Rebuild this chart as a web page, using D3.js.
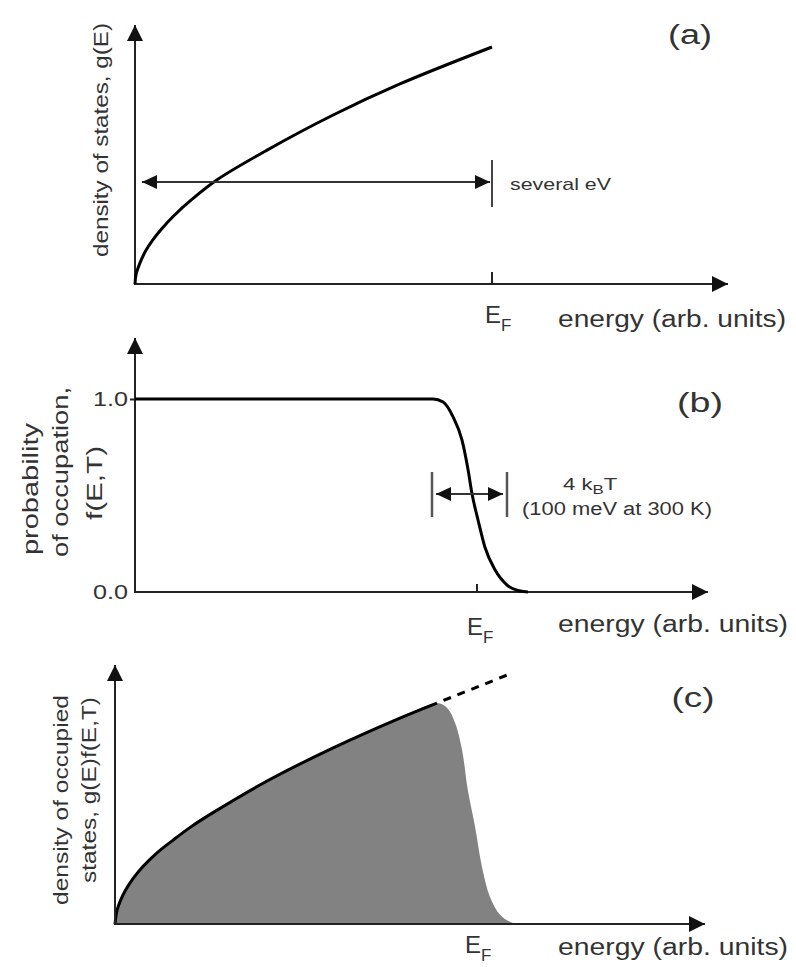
<!DOCTYPE html>
<html>
<head>
<meta charset="utf-8">
<script src="https://cdn.jsdelivr.net/npm/d3@7.9.0/dist/d3.min.js"></script>
<style>
  body { margin: 0; background: #fff; }
  svg text { font-family: "Liberation Sans", Arial, Helvetica, sans-serif; fill: #333; }
</style>
</head>
<body>
<svg id="fig" width="796" height="967"></svg>
<script>
// (a) density of states g(E), energy in units of E_F
const dosE = [0, 0.003, 0.014, 0.03, 0.05, 0.075, 0.106, 0.16, 0.23, 0.37, 0.555, 0.742, 1.0];
const dosG = [0, 0.04, 0.089, 0.14, 0.186, 0.233, 0.284, 0.358, 0.44, 0.565, 0.713, 0.844, 1.0];

// (b) occupation probability f(E,T)
const occE = [0, 0.871, 0.901, 0.930, 0.956, 0.974, 0.985, 1.003, 1.023, 1.053, 1.088, 1.126, 1.149];
const occF = [1, 1, 0.984, 0.907, 0.788, 0.632, 0.513, 0.373, 0.233, 0.114, 0.036, 0.005, 0];
const occTicks = [0, 1];

// (c) density of occupied states g(E)f(E,T)
const dofE = [0, 0.006, 0.015, 0.028, 0.05, 0.077, 0.115, 0.160, 0.21, 0.270, 0.419, 0.601, 0.785, 0.887,
              0.915, 0.937, 0.956, 0.972, 0.992, 1.011, 1.033, 1.061, 1.096, 1.124];
const dofN = [0, 0.055, 0.09, 0.128, 0.176, 0.222, 0.274, 0.324, 0.376, 0.430, 0.552, 0.68, 0.795, 0.853,
              0.834, 0.776, 0.672, 0.517, 0.375, 0.220, 0.104, 0.035, 0.004, 0];
const dofSolid = 14;           // first points carry the black g(E) outline
const dashE = [0.887, 1.08];   // g(E) continued above the cut-off
const dashN = [0.853, 0.961];

const svg = d3.select('#fig');
const smooth = d3.curveCatmullRom.alpha(0.5);

// arrowheads
const defs = svg.append('defs');
function marker(id, len, half) {
  defs.append('marker')
    .attr('id', id)
    .attr('viewBox', `0 ${-half} ${len} ${2 * half}`)
    .attr('refX', len).attr('refY', 0)
    .attr('markerWidth', len).attr('markerHeight', 2 * half)
    .attr('markerUnits', 'userSpaceOnUse')
    .attr('orient', 'auto-start-reverse')
    .append('path')
    .attr('d', `M0,${-half}L${len},0L0,${half}Z`)
    .attr('fill', '#111');
}
marker('ax', 16, 8);
marker('dim', 15, 7);

function label(g, x, y, str, o = {}) {
  const t = g.append('text')
    .attr('transform', `translate(${x},${y})${o.rot ? ` rotate(${o.rot})` : ''}${o.sx ? ` scale(${o.sx},1)` : ''}`)
    .attr('font-size', o.size || 22)
    .attr('text-anchor', o.anchor || 'start')
    .text(str);
  if (o.len) t.attr('textLength', o.len).attr('lengthAdjust', 'spacingAndGlyphs');
  return t;
}

function efLabel(g, x, y) {
  const t = g.append('text').attr('x', x).attr('y', y).attr('font-size', 24).text('E');
  t.append('tspan').attr('font-size', 17).attr('dy', 8).text('F');
}

function axes(g, P) {
  g.append('path')
    .attr('d', `M${P.ox},${P.oy}V${P.tipY}`)
    .attr('stroke', '#222').attr('stroke-width', 2).attr('fill', 'none')
    .attr('marker-end', 'url(#ax)');
  g.append('path')
    .attr('d', `M${P.ox - 1},${P.oy}H${P.tipX}`)
    .attr('stroke', '#222').attr('stroke-width', 2).attr('fill', 'none')
    .attr('marker-end', 'url(#ax)');
}

// ---------- panel (a) ----------
const A = { ox: 135, oy: 284, ef: 492, top: 47, tipX: 728, tipY: 25 };
const xa = d3.scaleLinear().domain([0, 1]).range([A.ox, A.ef]);
const ya = d3.scaleLinear().domain([0, 1]).range([A.oy, A.top]);
const ga = svg.append('g');

axes(ga, A);
ga.append('line')
  .attr('x1', xa(1)).attr('x2', xa(1)).attr('y1', A.oy - 12).attr('y2', A.oy)
  .attr('stroke', '#222').attr('stroke-width', 2);

ga.append('path')
  .datum(d3.zip(dosE, dosG))
  .attr('d', d3.line().x(d => xa(d[0])).y(d => ya(d[1])).curve(smooth))
  .attr('fill', 'none').attr('stroke', '#000').attr('stroke-width', 3);

// "several eV" span
ga.append('line')
  .attr('x1', xa(1)).attr('x2', xa(1)).attr('y1', 160).attr('y2', 207)
  .attr('stroke', '#444').attr('stroke-width', 2);
ga.append('line')
  .attr('x1', A.ox + 7).attr('x2', xa(1) - 2).attr('y1', 182).attr('y2', 182)
  .attr('stroke', '#333').attr('stroke-width', 2)
  .attr('marker-start', 'url(#dim)').attr('marker-end', 'url(#dim)');

label(ga, 108, 140, 'density of states, g(E)', { rot: -90, anchor: 'middle', size: 21, len: 234 });
label(ga, 690, 44, '(a)', { anchor: 'middle', size: 27, len: 44 });
label(ga, 510, 190, 'several eV', { size: 17, len: 101 });
efLabel(ga, 485, 323);
label(ga, 558, 327, 'energy (arb. units)', { size: 23, len: 228 });

// ---------- panel (b) ----------
const B = { ox: 135, oy: 592, ef: 477, top: 399, tipX: 708, tipY: 338 };
const xb = d3.scaleLinear().domain([0, 1]).range([B.ox, B.ef]);
const yb = d3.scaleLinear().domain([0, 1]).range([B.oy, B.top]);
const gb = svg.append('g');

axes(gb, B);
gb.append('line')
  .attr('x1', xb(1)).attr('x2', xb(1)).attr('y1', B.oy - 8).attr('y2', B.oy)
  .attr('stroke', '#222').attr('stroke-width', 2);

const yAxisB = gb.append('g')
  .attr('transform', `translate(${B.ox},0)`)
  .call(d3.axisLeft(yb).tickValues(occTicks).tickFormat(d3.format('.1f')).tickSize(5).tickPadding(2));
yAxisB.select('.domain').remove();
yAxisB.selectAll('.tick line').attr('stroke', '#222').attr('stroke-width', 2)
  .filter(d => d === 0).remove();
yAxisB.selectAll('.tick text')
  .attr('font-size', 21).attr('fill', '#333')
  .attr('font-family', '"Liberation Sans", Arial, sans-serif')
  .attr('textLength', 35).attr('lengthAdjust', 'spacingAndGlyphs');

gb.append('path')
  .datum(d3.zip(occE, occF))
  .attr('d', d3.line().x(d => xb(d[0])).y(d => yb(d[1])).curve(d3.curveMonotoneX))
  .attr('fill', 'none').attr('stroke', '#000').attr('stroke-width', 3);

// 4 kBT width marker
[432, 507].forEach(x => gb.append('line')
  .attr('x1', x).attr('x2', x).attr('y1', 472).attr('y2', 517)
  .attr('stroke', '#555').attr('stroke-width', 2.5));
gb.append('line')
  .attr('x1', 436).attr('x2', 503).attr('y1', 494).attr('y2', 494)
  .attr('stroke', '#333').attr('stroke-width', 2)
  .attr('marker-start', 'url(#dim)').attr('marker-end', 'url(#dim)');

const kbt = gb.append('text')
  .attr('transform', 'translate(563,490) scale(1.3,1)')
  .attr('font-size', 17).text('4 k');
kbt.append('tspan').attr('font-size', 13).attr('dy', 4).text('B');
kbt.append('tspan').attr('dy', -4).text('T');
label(gb, 522, 515, '(100 meV at 300 K)', { size: 18, len: 190 });

label(gb, 37.5, 489, 'probability', { rot: -90, anchor: 'middle', size: 22, len: 132 });
label(gb, 68, 472, 'of occupation,', { rot: -90, anchor: 'middle', size: 22, len: 170 });
label(gb, 102, 483, 'f(E,T)', { rot: -90, anchor: 'middle', size: 22, len: 74 });
label(gb, 700, 412, '(b)', { anchor: 'middle', size: 27, len: 46 });
efLabel(gb, 467, 635);
label(gb, 558, 632, 'energy (arb. units)', { size: 23, len: 230 });

// ---------- panel (c) ----------
const C = { ox: 115, oy: 924, ef: 478, top: 665, tipX: 705, tipY: 665 };
const xc = d3.scaleLinear().domain([0, 1]).range([C.ox, C.ef]);
const yc = d3.scaleLinear().domain([0, 1]).range([C.oy, C.top]);
const gc = svg.append('g');

const dof = d3.zip(dofE, dofN);
gc.append('path')
  .datum(dof)
  .attr('d', d3.area().x(d => xc(d[0])).y0(yc(0)).y1(d => yc(d[1])).curve(smooth))
  .attr('fill', '#828282');
gc.append('path')
  .datum(dof.slice(0, dofSolid))
  .attr('d', d3.line().x(d => xc(d[0])).y(d => yc(d[1])).curve(smooth))
  .attr('fill', 'none').attr('stroke', '#000').attr('stroke-width', 3);
gc.append('path')
  .datum(d3.zip(dashE, dashN))
  .attr('d', d3.line().x(d => xc(d[0])).y(d => yc(d[1])))
  .attr('fill', 'none').attr('stroke', '#000').attr('stroke-width', 3)
  .attr('stroke-dasharray', '8 7').attr('stroke-dashoffset', 8);

axes(gc, C);

label(gc, 67.5, 800, 'density of occupied', { rot: -90, anchor: 'middle', size: 20, len: 210 });
label(gc, 96, 790, 'states, g(E)f(E,T)', { rot: -90, anchor: 'middle', size: 20, len: 186 });
label(gc, 693, 707, '(c)', { anchor: 'middle', size: 27, len: 43 });
efLabel(gc, 465, 953);
label(gc, 558, 955, 'energy (arb. units)', { size: 23, len: 230 });
</script>
</body>
</html>
